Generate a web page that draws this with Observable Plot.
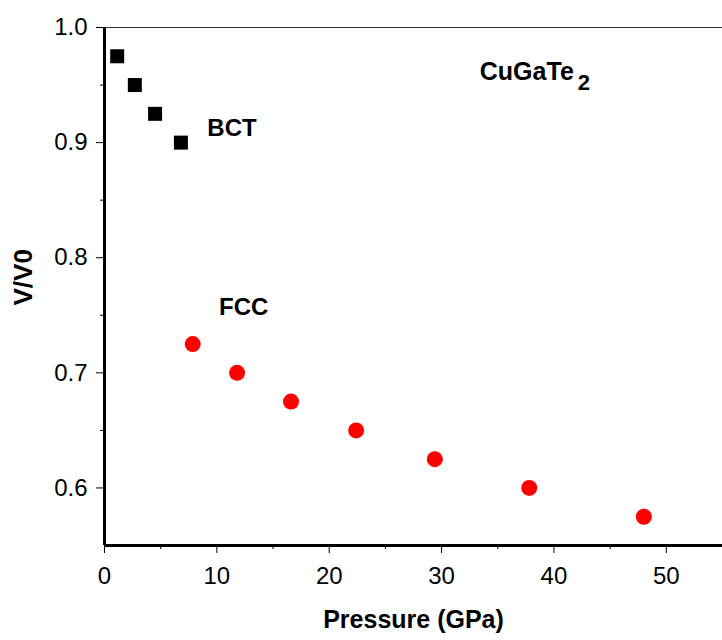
<!DOCTYPE html>
<html>
<head>
<meta charset="utf-8">
<script src="https://cdn.jsdelivr.net/npm/d3@7"></script>
<script src="https://cdn.jsdelivr.net/npm/@observablehq/plot@0.6"></script>
<style>
  html, body { margin: 0; padding: 0; background: #fff; }
  svg { display: block; }
</style>
</head>
<body>
<div id="chart"></div>
<script>
// BCT phase (squares)
const bctPressure = [1.13, 2.7, 4.5, 6.8];
const bctVolume = [0.975, 0.95, 0.925, 0.90];
// FCC phase (circles)
const fccPressure = [7.85, 11.8, 16.6, 22.4, 29.4, 37.8, 48.0];
const fccVolume = [0.725, 0.70, 0.675, 0.65, 0.625, 0.60, 0.575];
// tick values
const xMajorTicks = [0, 10, 20, 30, 40, 50];
const xMinorTicks = [5, 15, 25, 35, 45];
const yMajorTicks = [0.6, 0.7, 0.8, 0.9, 1.0];
const yMinorTicks = [0.65, 0.75, 0.85, 0.95];
// axis titles
const xTitle = ["Pressure (GPa)"];
const yTitle = ["V/V0"];
// annotations
const phaseLabels = ["BCT", "FCC"];
const phaseLabelX = [9.15, 10.2];
const phaseLabelY = [0.912, 0.757];
const compoundText = ["CuGaTe"];
const compoundSub = ["2"];
const compoundX = [33.4];
const compoundY = [0.961];

const bct = bctPressure.map((p, i) => ({p, v: bctVolume[i]}));
const fcc = fccPressure.map((p, i) => ({p, v: fccVolume[i]}));
const phases = phaseLabels.map((t, i) => ({t, x: phaseLabelX[i], y: phaseLabelY[i]}));
const compound = compoundText.map((t, i) => ({t, s: compoundSub[i], x: compoundX[i], y: compoundY[i]}));

const chart = Plot.plot({
  width: 722,
  height: 640,
  marginLeft: 104,
  marginRight: 0,
  marginTop: 27,
  marginBottom: 95,
  style: {fontFamily: "'Liberation Sans', Arial, sans-serif", fontSize: "24px", color: "#000", background: "#fff"},
  x: {domain: [0, 55]},
  y: {domain: [0.55, 1.0]},
  marks: [
    Plot.ruleY([1.0], {stroke: "#333", strokeWidth: 1}),
    Plot.axisX({ticks: xMajorTicks, tickSize: 8, tickWidth: 3, tickPadding: 13, tickFormat: d3.format("d"),
      fontSize: 24, label: null}),
    Plot.axisX({ticks: xMinorTicks, tickSize: 4, tickWidth: 3, text: null, label: null}),
    Plot.axisY({ticks: yMajorTicks, tickSize: 8, tickWidth: 3, tickPadding: 9, tickFormat: d3.format(".1f"),
      fontSize: 24, label: null}),
    Plot.axisY({ticks: yMinorTicks, tickSize: 4, tickWidth: 3, text: null, label: null}),
    Plot.ruleX([0], {strokeWidth: 3, stroke: "#000"}),
    Plot.ruleY([0.55], {strokeWidth: 3, stroke: "#000", x1: 0, x2: 55}),
    Plot.text(xTitle, {frameAnchor: "bottom", dy: 74, lineAnchor: "middle", fontWeight: "bold", fontSize: 25, fill: "#000"}),
    Plot.text(yTitle, {frameAnchor: "left", dx: -81, dy: 19, rotate: -90, lineAnchor: "middle", fontWeight: "bold", fontSize: 26, fill: "#000"}),
    Plot.dot(bct, {x: "p", y: "v", symbol: "square", r: 7.9, fill: "#000", stroke: null}),
    Plot.dot(fcc, {x: "p", y: "v", symbol: "circle", r: 8, fill: "#ff0000", stroke: null}),
    Plot.text(phases, {x: "x", y: "y", text: "t", textAnchor: "start", fontWeight: "bold", fontSize: 24, fill: "#000"}),
    Plot.text(compound, {x: "x", y: "y", text: "t", textAnchor: "start", fontWeight: "bold", fontSize: 25, fill: "#000"}),
    Plot.text(compound, {x: "x", y: "y", text: "s", textAnchor: "start", dx: 98, dy: 11, fontWeight: "bold", fontSize: 22, fill: "#000"})
  ]
});
document.getElementById("chart").appendChild(chart);
</script>
</body>
</html>
